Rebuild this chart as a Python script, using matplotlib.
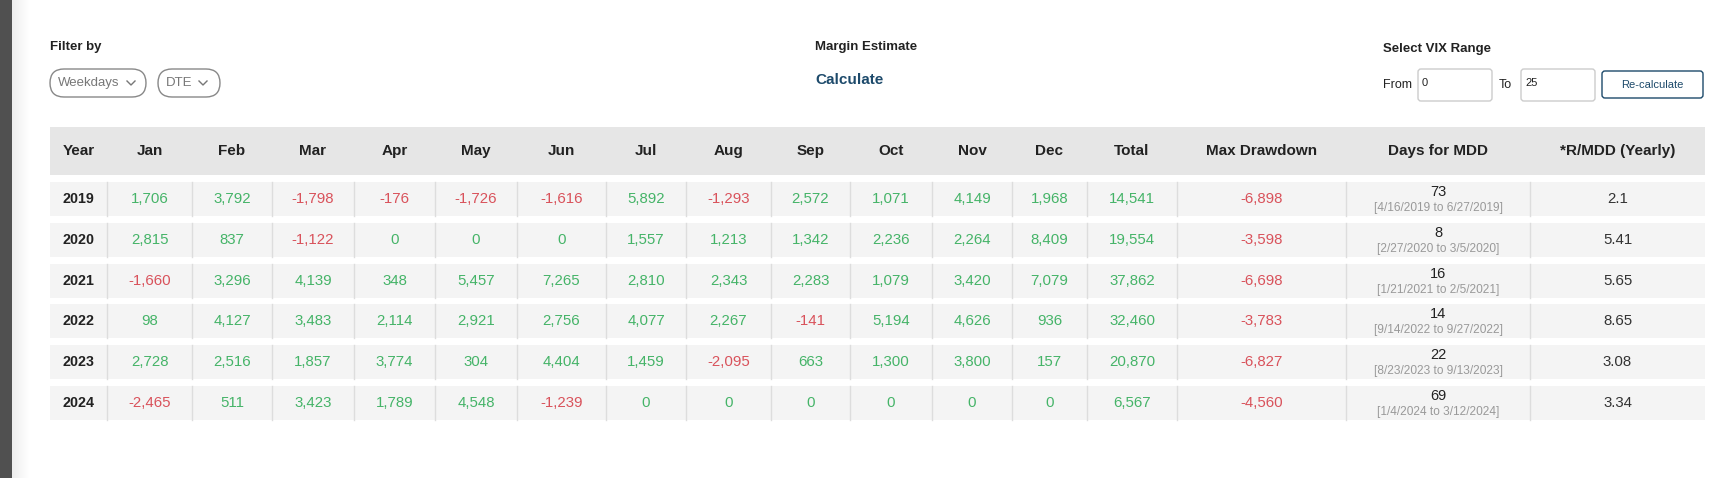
import matplotlib
matplotlib.use("Agg")
import matplotlib.pyplot as plt
from matplotlib.patches import Rectangle, FancyBboxPatch
import numpy as np

plt.rcParams['font.family'] = ['Liberation Sans', 'DejaVu Sans']

# table data
years = ['2019', '2020', '2021', '2022', '2023', '2024']
months = ['Jan', 'Feb', 'Mar', 'Apr', 'May', 'Jun', 'Jul', 'Aug', 'Sep', 'Oct', 'Nov', 'Dec']
monthly = [
    [1706, 3792, -1798, -176, -1726, -1616, 5892, -1293, 2572, 1071, 4149, 1968],
    [2815, 837, -1122, 0, 0, 0, 1557, 1213, 1342, 2236, 2264, 8409],
    [-1660, 3296, 4139, 348, 5457, 7265, 2810, 2343, 2283, 1079, 3420, 7079],
    [98, 4127, 3483, 2114, 2921, 2756, 4077, 2267, -141, 5194, 4626, 936],
    [2728, 2516, 1857, 3774, 304, 4404, 1459, -2095, 663, 1300, 3800, 157],
    [-2465, 511, 3423, 1789, 4548, -1239, 0, 0, 0, 0, 0, 0],
]
totals = [14541, 19554, 37862, 32460, 20870, 6567]
max_dd = [-6898, -3598, -6698, -3783, -6827, -4560]
dd_days = [73, 8, 16, 14, 22, 69]
dd_ranges = ['4/16/2019 to 6/27/2019', '2/27/2020 to 3/5/2020', '1/21/2021 to 2/5/2021',
             '9/14/2022 to 9/27/2022', '8/23/2023 to 9/13/2023', '1/4/2024 to 3/12/2024']
r_mdd = ['2.1', '5.41', '5.65', '8.65', '3.08', '3.34']
headers = ['Year'] + months + ['Total', 'Max Drawdown', 'Days for MDD', '*R/MDD (Yearly)']

# column edges in pixels
edges = [50, 107, 192, 272, 354, 435, 517, 606, 686, 771, 850, 932, 1012, 1087, 1177, 1346, 1530, 1705]

GREEN = '#45b468'
RED = '#d9525b'

fig = plt.figure(figsize=(17.25, 4.78), dpi=100)
ax = fig.add_axes([0, 0, 1, 1])
ax.set_xlim(0, 1725)
ax.set_ylim(478, 0)
ax.axis('off')

# left dark strip with soft shadow
ax.add_patch(Rectangle((0, 0), 12, 478, color='#505050', lw=0))
for i in range(18):
    c = 0.93 + 0.07 * i / 17
    ax.add_patch(Rectangle((12 + i, 0), 1, 478, color=(c, c, c), lw=0))

# top controls
ax.text(50, 47, 'Filter by', fontsize=9.5, fontweight='semibold', color='#222222', va='center')
ax.add_patch(FancyBboxPatch((50, 69), 96, 28, boxstyle='round,pad=0,rounding_size=14',
                            fc='white', ec='#888888', lw=1))
ax.text(58, 83, 'Weekdays', fontsize=9.5, color='#777777', va='center')
ax.plot([127, 131, 135], [81, 85, 81], color='#777777', lw=1)
ax.add_patch(FancyBboxPatch((158, 69), 62, 28, boxstyle='round,pad=0,rounding_size=14',
                            fc='white', ec='#888888', lw=1))
ax.text(166, 83, 'DTE', fontsize=9.5, color='#777777', va='center')
ax.plot([199, 203, 207], [81, 85, 81], color='#777777', lw=1)

ax.text(815, 47, 'Margin Estimate', fontsize=9.5, fontweight='semibold', color='#222222', va='center')
ax.text(815, 80, 'Calculate', fontsize=11, fontweight='bold', color='#1d4a6b', va='center')

ax.text(1383, 49, 'Select VIX Range', fontsize=9.5, fontweight='semibold', color='#222222', va='center')
ax.text(1383, 85, 'From', fontsize=9, color='#222222', va='center')
ax.add_patch(FancyBboxPatch((1418, 69), 74, 32, boxstyle='round,pad=0,rounding_size=3',
                            fc='white', ec='#cccccc', lw=1))
ax.text(1422, 83, '0', fontsize=8, color='#222222', va='center')
ax.text(1499, 85, 'To', fontsize=9, color='#222222', va='center')
ax.add_patch(FancyBboxPatch((1521, 69), 74, 32, boxstyle='round,pad=0,rounding_size=3',
                            fc='white', ec='#cccccc', lw=1))
ax.text(1525, 83, '25', fontsize=8, color='#222222', va='center')
ax.add_patch(FancyBboxPatch((1602, 71), 101, 27, boxstyle='round,pad=0,rounding_size=3',
                            fc='white', ec='#1d4a6b', lw=1))
ax.text(1652.5, 84.5, 'Re-calculate', fontsize=8, color='#1d4a6b', va='center', ha='center')

# header
ax.add_patch(Rectangle((edges[0], 127), edges[-1] - edges[0], 48, color='#e6e6e6', lw=0))
centers = [(edges[i] + edges[i + 1]) / 2 for i in range(len(edges) - 1)]
for cx, h in zip(centers, headers):
    ax.text(cx, 151, h, fontsize=11, fontweight='bold', color='#222222', ha='center', va='center')


def fmt(v):
    return f'{v:,}'


def col(v):
    return RED if v < 0 else GREEN


row_top = 182
row_step = 40.8
row_h = 34
for r, yr in enumerate(years):
    top = row_top + r * row_step
    mid = top + row_h / 2
    ax.add_patch(Rectangle((edges[0], top), edges[-1] - edges[0], row_h, color='#f4f4f4', lw=0))
    for x in edges[1:-1]:
        ax.plot([x, x], [top, top + row_h], color='#dddddd', lw=1)
    ax.text(centers[0], mid, yr, fontsize=10.3, fontweight='bold', color='#222222', ha='center', va='center')
    for m, v in enumerate(monthly[r]):
        ax.text(centers[m + 1], mid, fmt(v), fontsize=10.8, color=col(v), ha='center', va='center')
    ax.text(centers[13], mid, fmt(totals[r]), fontsize=10.8, color=col(totals[r]), ha='center', va='center')
    ax.text(centers[14], mid, fmt(max_dd[r]), fontsize=10.8, color=col(max_dd[r]), ha='center', va='center')
    ax.text(centers[15], top + 10, str(dd_days[r]), fontsize=10.5, color='#222222', ha='center', va='center')
    ax.text(centers[15], top + 26, '[' + dd_ranges[r] + ']', fontsize=8.6, color='#999999', ha='center', va='center')
    ax.text(centers[16], mid, r_mdd[r], fontsize=10.8, color='#333333', ha='center', va='center')

fig.savefig('out.png', dpi=100, facecolor='white')
